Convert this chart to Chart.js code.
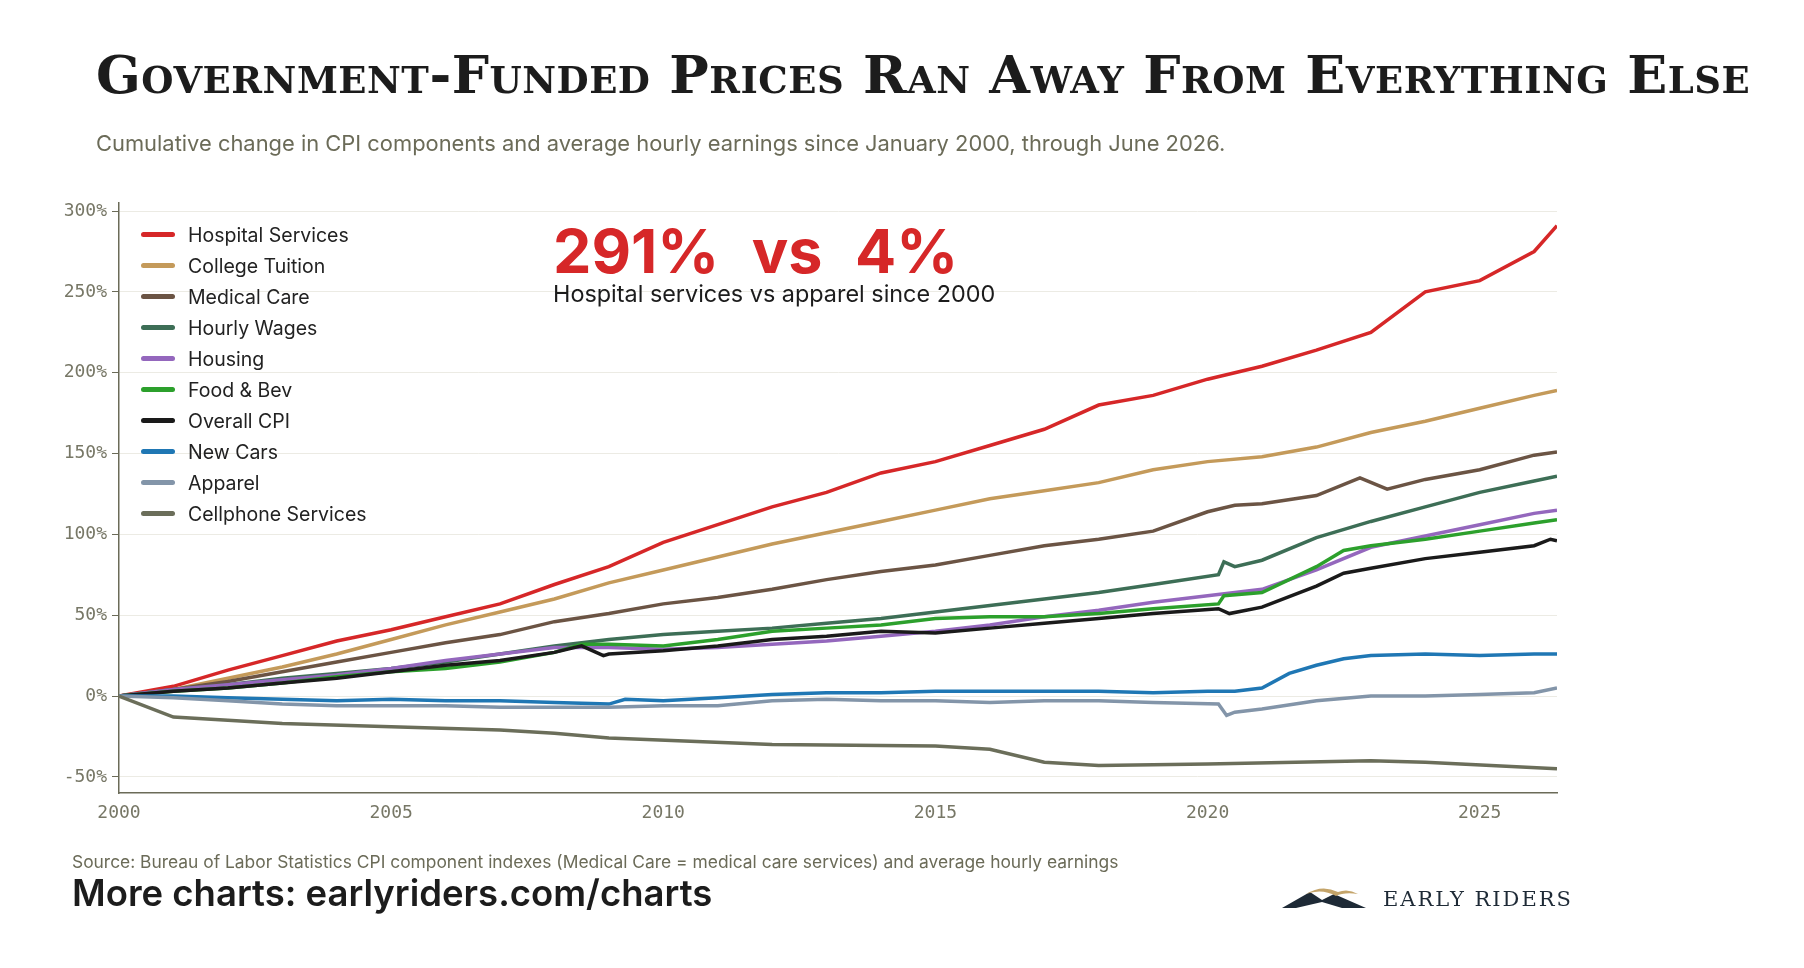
<!DOCTYPE html>
<html>
<head>
<meta charset="utf-8">
<script src="https://cdn.jsdelivr.net/npm/chart.js@4"></script>
<style>
  html, body { margin: 0; padding: 0; background: #fff; }
  body { width: 1804px; height: 968px; position: relative; overflow: hidden; font-family: Inter, "Noto Sans", sans-serif; }
  #wrap { position: absolute; left: 0; top: 0; width: 1804px; height: 968px; }
  .abs { position: absolute; white-space: nowrap; }
  #title { left: 96px; top: 44px; font-family: "DejaVu Serif", serif; font-weight: bold; font-variant: small-caps; font-size: 52.5px; color: #1c1c1c; letter-spacing: 0.5px; }
  #subtitle { left: 96px; top: 130px; font-size: 21.9px; color: #6b6b58; }
  #legend { left: 141px; top: 219px; }
  .lg { display: flex; align-items: center; height: 31px; font-size: 19.5px; color: #222; }
  .lg span.sw { display: inline-block; width: 34px; height: 5px; border-radius: 3px; margin-right: 13px; }
  #big { left: 553px; top: 214px; font-size: 61px; font-weight: bold; color: #d62728; word-spacing: 18px; }
  #bigsub { left: 553px; top: 279px; font-size: 23.4px; color: #1c1c1c; }
  #source { left: 72px; top: 851px; font-size: 17.4px; color: #6b6b58; }
  #more { left: 72px; top: 871px; font-size: 36.5px; font-weight: 600; color: #1c1c1c; }
  #logo { left: 1282px; top: 884px; }
  #logotext { left: 1383px; top: 887px; font-family: "DejaVu Serif", serif; font-size: 21px; letter-spacing: 2px; color: #1e2a36; }
</style>
</head>
<body>
<div id="wrap"><canvas id="chart" width="1804" height="968"></canvas></div>
<div class="abs" id="title">Government-Funded Prices Ran Away From Everything Else</div>
<div class="abs" id="subtitle">Cumulative change in CPI components and average hourly earnings since January 2000, through June 2026.</div>
<div class="abs" id="legend"></div>
<div class="abs" id="big">291% vs 4%</div>
<div class="abs" id="bigsub">Hospital services vs apparel since 2000</div>
<div class="abs" id="source">Source: Bureau of Labor Statistics CPI component indexes (Medical Care = medical care services) and average hourly earnings</div>
<div class="abs" id="more">More charts: earlyriders.com/charts</div>
<svg class="abs" id="logo" width="90" height="26" viewBox="0 0 90 26">
  <path d="M0 24 L28 8 L40 16 L52 10 L84 24 Z" fill="#1e2a36"/>
  <path d="M24 10 Q40 0 56 8 Q66 4 76 10 Q62 8 54 12 Q40 4 24 10 Z" fill="#c4a46a"/>
  <path d="M14 24 L40 18 L60 24 Z" fill="#ffffff"/>
</svg>
<div class="abs" id="logotext">EARLY RIDERS</div>

<script>
// series: [year, cumulative % change since Jan 2000]
const hospital = [[2000,0],[2001,6],[2002,16],[2003,25],[2004,34],[2005,41],[2006,49],[2007,57],[2008,69],[2009,80],[2010,95],[2011,106],[2012,117],[2013,126],[2014,138],[2015,145],[2016,155],[2017,165],[2018,180],[2019,186],[2020,196],[2021,204],[2022,214],[2023,225],[2024,250],[2025,257],[2026,275],[2026.42,291]];
const tuition = [[2000,0],[2001,4],[2002,11],[2003,18],[2004,26],[2005,35],[2006,44],[2007,52],[2008,60],[2009,70],[2010,78],[2011,86],[2012,94],[2013,101],[2014,108],[2015,115],[2016,122],[2017,127],[2018,132],[2019,140],[2020,145],[2021,148],[2022,154],[2023,163],[2024,170],[2025,178],[2026,186],[2026.42,189]];
const medical = [[2000,0],[2001,4],[2002,9],[2003,15],[2004,21],[2005,27],[2006,33],[2007,38],[2008,46],[2009,51],[2010,57],[2011,61],[2012,66],[2013,72],[2014,77],[2015,81],[2016,87],[2017,93],[2018,97],[2019,102],[2020,114],[2020.5,118],[2021,119],[2022,124],[2022.8,135],[2023.3,128],[2024,134],[2025,140],[2026,149],[2026.42,151]];
const wages = [[2000,0],[2001,4],[2002,7],[2003,11],[2004,14],[2005,17],[2006,21],[2007,26],[2008,31],[2009,35],[2010,38],[2011,40],[2012,42],[2013,45],[2014,48],[2015,52],[2016,56],[2017,60],[2018,64],[2019,69],[2020.2,75],[2020.3,83],[2020.5,80],[2021,84],[2022,98],[2023,108],[2024,117],[2025,126],[2026,133],[2026.42,136]];
const housing = [[2000,0],[2001,4],[2002,7],[2003,10],[2004,13],[2005,17],[2006,22],[2007,26],[2008,30],[2009,30],[2010,29],[2011,30],[2012,32],[2013,34],[2014,37],[2015,40],[2016,44],[2017,49],[2018,53],[2019,58],[2020,62],[2021,66],[2022,78],[2023,92],[2024,99],[2025,106],[2026,113],[2026.42,115]];
const food = [[2000,0],[2001,3],[2002,5],[2003,8],[2004,12],[2005,15],[2006,17],[2007,21],[2008,27],[2008.5,32],[2009,32],[2010,31],[2011,35],[2012,40],[2013,42],[2014,44],[2015,48],[2016,49],[2017,49],[2018,51],[2019,54],[2020.2,57],[2020.3,62],[2021,64],[2022,80],[2022.5,90],[2023,93],[2024,97],[2025,102],[2026,107],[2026.42,109]];
const cpi = [[2000,0],[2001,3],[2002,5],[2003,8],[2004,11],[2005,15],[2006,19],[2007,22],[2008,27],[2008.5,31],[2008.9,25],[2009,26],[2010,28],[2011,31],[2012,35],[2013,37],[2014,40],[2015,39],[2016,42],[2017,45],[2018,48],[2019,51],[2020.2,54],[2020.4,51],[2021,55],[2022,68],[2022.5,76],[2023,79],[2024,85],[2025,89],[2026,93],[2026.3,97],[2026.42,96]];
const newCars = [[2000,0],[2001,0],[2002,-1],[2003,-2],[2004,-3],[2005,-2],[2006,-3],[2007,-3],[2008,-4],[2009,-5],[2009.3,-2],[2010,-3],[2011,-1],[2012,1],[2013,2],[2014,2],[2015,3],[2016,3],[2017,3],[2018,3],[2019,2],[2020,3],[2020.5,3],[2021,5],[2021.5,14],[2022,19],[2022.5,23],[2023,25],[2024,26],[2025,25],[2026,26],[2026.42,26]];
const apparel = [[2000,0],[2001,-1],[2002,-3],[2003,-5],[2004,-6],[2005,-6],[2006,-6],[2007,-7],[2008,-7],[2009,-7],[2010,-6],[2011,-6],[2012,-3],[2013,-2],[2014,-3],[2015,-3],[2016,-4],[2017,-3],[2018,-3],[2019,-4],[2020.2,-5],[2020.35,-12],[2020.5,-10],[2021,-8],[2022,-3],[2023,0],[2024,0],[2025,1],[2026,2],[2026.42,5]];
const cellphone = [[2000,0],[2001,-13],[2002,-15],[2003,-17],[2005,-19],[2007,-21],[2008,-23],[2009,-26],[2012,-30],[2015,-31],[2016,-33],[2017,-41],[2018,-43],[2020,-42],[2023,-40],[2024,-41],[2026.42,-45]];

const seriesNames = ['Hospital Services', 'College Tuition', 'Medical Care', 'Hourly Wages', 'Housing', 'Food & Bev', 'Overall CPI', 'New Cars', 'Apparel', 'Cellphone Services'];
const seriesData = [hospital, tuition, medical, wages, housing, food, cpi, newCars, apparel, cellphone];
const seriesColors = ['#d62728', '#c49a5a', '#6b5444', '#3d6e56', '#9467bd', '#2ca02c', '#1a1a1a', '#1f77b4', '#8395a9', '#6b6e5a'];
const yTicks = [-50, 0, 50, 100, 150, 200, 250, 300];
const xTicks = [2000, 2005, 2010, 2015, 2020, 2025];

// legend
const legendEl = document.getElementById('legend');
seriesNames.forEach((n, i) => {
    const row = document.createElement('div');
    row.className = 'lg';
    row.innerHTML = '<span class="sw" style="background:' + seriesColors[i] + '"></span>' + n.replace('&', '&amp;');
    legendEl.appendChild(row);
});

const axisColor = '#6b6b58';
const ctx = document.getElementById('chart').getContext('2d');
new Chart(ctx, {
    type: 'line',
    data: {
        datasets: seriesData.map((d, i) => ({
            label: seriesNames[i],
            data: d.map(p => ({ x: p[0], y: p[1] })),
            borderColor: seriesColors[i],
            borderWidth: 3.5,
            pointRadius: 0,
            tension: 0,
            fill: false
        })).reverse()
    },
    options: {
        responsive: false,
        animation: false,
        layout: { padding: { left: 0, right: 247, top: 203, bottom: 0 } },
        plugins: { legend: { display: false }, tooltip: { enabled: false } },
        scales: {
            x: {
                type: 'linear',
                min: 2000,
                max: 2026.42,
                afterBuildTicks: s => { s.ticks = xTicks.map(v => ({ value: v })); },
                afterFit: s => { s.height = 175; },
                grid: { display: false, drawTicks: true, tickLength: 6, tickColor: axisColor },
                border: { color: axisColor, width: 1.5 },
                ticks: {
                    callback: v => String(v),
                    color: '#777766',
                    font: { family: 'DejaVu Sans Mono', size: 18 },
                    padding: 4,
                    maxRotation: 0
                }
            },
            y: {
                min: -60,
                max: 305,
                afterBuildTicks: s => { s.ticks = yTicks.map(v => ({ value: v })); },
                afterFit: s => { s.width = 119; },
                grid: { color: '#ecebe4', tickLength: 7, tickColor: axisColor },
                border: { color: axisColor, width: 1.5 },
                ticks: {
                    callback: v => v + '%',
                    color: '#777766',
                    font: { family: 'DejaVu Sans Mono', size: 18 },
                    padding: 5
                }
            }
        }
    }
});
</script>
</body>
</html>
